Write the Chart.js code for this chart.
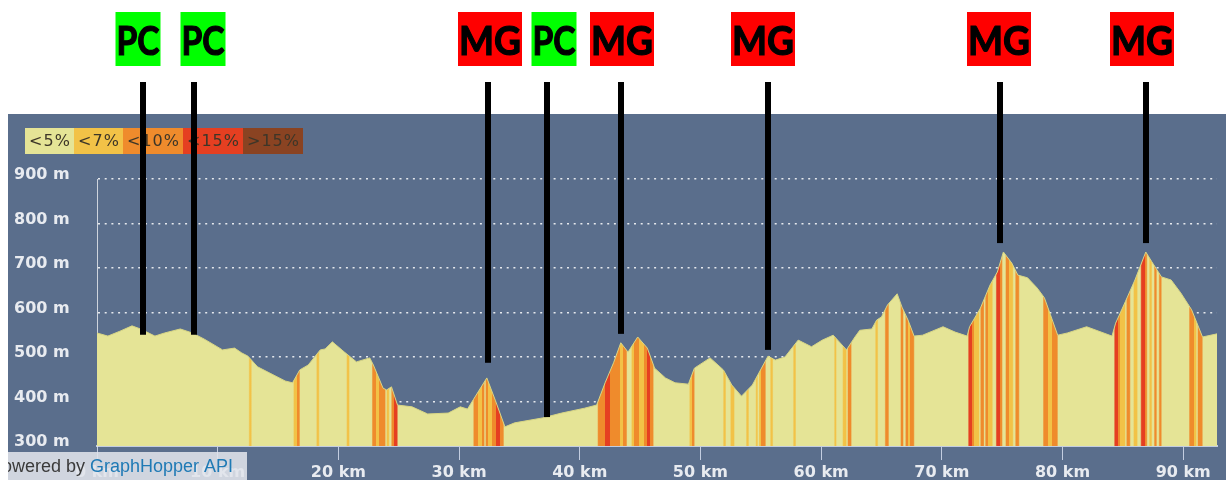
<!DOCTYPE html>
<html>
<head>
<meta charset="utf-8">
<script src="https://cdn.jsdelivr.net/npm/chart.js@4.4.1/dist/chart.umd.min.js"></script>
<style>
  html, body { margin: 0; padding: 0; background: #fff; }
  #wrap { width: 1226px; height: 480px; }
</style>
</head>
<body>
<div id="wrap"><canvas id="elev" width="1226" height="480"></canvas></div>
<script>
// ---- elevation profile (km / m) ----
const distKm = [0, 0.9, 1.9, 2.9, 3.6, 4.8, 5.6, 6.9, 7.9, 8.9, 10.4, 11.4, 12.0, 12.5, 13.3, 15.6, 16.2, 16.8, 17.5, 18.5,
  18.9, 19.5, 20.5, 21.5, 22.6, 22.9, 23.7, 24.0, 24.4, 24.9, 26.1, 27.4, 29.1, 30.1, 30.7, 31.2, 32.3, 33.0, 33.8, 34.6,
  36.9, 38.5, 40.4, 41.4, 42.1, 42.8, 43.4, 44.0, 44.8, 45.6, 46.2, 47.1, 47.9, 49.0, 49.5, 50.8, 51.9, 52.6, 53.4, 54.3,
  55.6, 56.2, 57.0, 58.1, 59.2, 60.1, 61.0, 62.1, 62.8, 63.2, 64.2, 64.6, 65.0, 65.5, 66.3, 66.7, 67.2, 67.7, 68.4, 70.1,
  71.1, 72.1, 72.3, 73.2, 74.0, 74.6, 75.1, 75.8, 76.3, 77.1, 77.9, 78.5, 79.0, 79.6, 80.4, 82.0, 84.1, 84.4, 85.2, 86.0,
  86.9, 87.4, 88.2, 89.0, 89.8, 90.7, 91.6, 92.8];
const elevM = [554, 547, 558, 570, 563, 547, 554, 563, 554, 540, 516, 520, 509, 502, 478, 446, 442, 471, 482, 516,
  518, 534, 511, 489, 498, 482, 430, 426, 433, 392, 388, 372, 374, 388, 383, 405, 453, 403, 343, 352,
  363, 374, 385, 392, 442, 487, 532, 511, 545, 520, 475, 453, 442, 439, 475, 498, 471, 437, 412, 437,
  502, 493, 500, 538, 523, 538, 549, 516, 545, 560, 563, 583, 590, 617, 642, 612, 583, 547, 549, 568,
  556, 547, 568, 610, 662, 691, 736, 711, 684, 678, 655, 633, 595, 549, 554, 568, 547, 576, 624, 673,
  736, 714, 680, 673, 644, 606, 545, 552];

// ---- slope bands: from km, to km, grade index into gradeColors ----
const stripeFrom = [12.6, 16.3, 16.6, 18.2, 20.7, 22.8, 23.1, 23.4, 24.0, 24.4, 24.6,
  31.2, 31.6, 31.9, 32.2, 32.4, 32.7, 33.1, 33.4,
  41.5, 42.1, 42.5, 43.3, 43.6, 44.3, 44.5, 44.9, 45.3, 45.6, 45.8,
  49.1, 49.3, 51.9, 52.5, 53.8, 54.6, 54.85, 55.0, 55.8, 57.7, 61.1, 61.8, 62.2,
  64.5, 65.3, 66.6, 67.0, 67.2, 67.4,
  72.2, 72.5, 72.7, 73.2, 73.6, 73.8, 74.5, 74.8, 75.3, 75.6, 76.1,
  78.4, 78.8, 79.1,
  84.3, 84.6, 84.8, 85.3, 85.9, 86.5, 86.8, 87.2, 87.6, 88.0, 90.5, 90.9, 91.2];
const stripeTo = [12.8, 16.6, 16.8, 18.4, 20.9, 23.1, 23.4, 23.9, 24.2, 24.6, 24.9,
  31.6, 31.9, 32.1, 32.4, 32.7, 33.1, 33.4, 33.7,
  42.1, 42.5, 43.3, 43.6, 43.9, 44.5, 44.9, 45.3, 45.6, 45.8, 46.1,
  49.3, 49.5, 52.1, 52.8, 54.0, 54.75, 55.0, 55.4, 56.0, 57.9, 61.25, 62.1, 62.5,
  64.7, 65.6, 66.8, 67.2, 67.4, 67.7,
  72.5, 72.7, 73.1, 73.5, 73.8, 74.2, 74.8, 75.0, 75.6, 75.9, 76.4,
  78.8, 79.1, 79.6,
  84.6, 84.8, 85.2, 85.6, 86.2, 86.8, 87.0, 87.4, 87.8, 88.2, 90.9, 91.1, 91.6];
const stripeGrade = [1, 1, 2, 1, 1, 2, 1, 2, 1, 2, 3,
  2, 1, 2, 2, 1, 2, 3, 2,
  2, 3, 2, 1, 2, 1, 2, 1, 2, 3, 2,
  1, 2, 1, 1, 1, 1, 1, 2, 1, 1, 1, 1, 2,
  1, 2, 2, 2, 1, 2,
  3, 2, 1, 2, 2, 1, 3, 2, 2, 1, 2,
  2, 1, 2,
  3, 2, 1, 2, 1, 3, 2, 1, 2, 2, 2, 1, 2];

const gradeLabels = ['<5%', '<7%', '<10%', '<15%', '>15%'];
const gradeColors = ['#e5e496', '#f2c247', '#ef8b2c', '#e53f21', '#8a4322'];

// ---- axes ----
const xTickKm = [0, 10, 20, 30, 40, 50, 60, 70, 80, 90];
const yTickM = [300, 400, 500, 600, 700, 800, 900];

// ---- marked points above the profile ----
const markKm = [3.8, 8.0, 32.4, 37.3, 43.4, 55.6, 74.8, 86.9];
const markEndM = [550, 550, 487, 365, 552, 516, 756, 756];
const markTag = ['PC', 'PC', 'MG', 'PC', 'MG', 'MG', 'MG', 'MG'];
const markTagKm = [3.36, 8.82, 32.56, 37.9, 43.5, 55.18, 74.73, 86.58];

const BG = '#5a6e8c';
const TXT = '#e8ebf0';

function profileFill(context) {
  const chart = context.chart, area = chart.chartArea;
  if (!area) return gradeColors[0];
  const xs = chart.scales.x, w = area.right - area.left, base = gradeColors[0];
  const f = km => Math.min(1, Math.max(0, (xs.getPixelForValue(km) - area.left) / w));
  const soft = 0.7 / w;
  const g = chart.ctx.createLinearGradient(area.left, 0, area.right, 0);
  g.addColorStop(0, base);
  stripeFrom.forEach((from, i) => {
    const a = f(from), b = f(stripeTo[i]), c = gradeColors[stripeGrade[i]];
    const joinL = i > 0 && Math.abs(stripeTo[i - 1] - from) < 1e-6;
    const joinR = i < stripeFrom.length - 1 && Math.abs(stripeFrom[i + 1] - stripeTo[i]) < 1e-6;
    if (!joinL) g.addColorStop(Math.max(0, a - soft), base);
    g.addColorStop(joinL ? a : a + soft, c);
    g.addColorStop(joinR ? b : b - soft, c);
    if (!joinR) g.addColorStop(Math.min(1, b + soft), base);
  });
  g.addColorStop(1, base);
  return g;
}

function drawGradeKey(c) {
  c.save();
  c.font = '16px "DejaVu Sans"';
  c.letterSpacing = '1px';
  c.textBaseline = 'middle';
  c.textAlign = 'center';
  let x = 25;
  gradeLabels.forEach((lab, i) => {
    const w = Math.round(c.measureText(lab).width) + 7;
    c.fillStyle = gradeColors[i];
    c.fillRect(x, 128, w, 26);
    c.fillStyle = '#3d3628';
    c.fillText(lab, x + w / 2 + 0.5, 142);
    x += w;
  });
  c.restore();
}

const backdrop = {
  id: 'backdrop',
  beforeDraw(chart) {
    const c = chart.ctx;
    c.save();
    c.fillStyle = BG;
    c.fillRect(8, 114, chart.width - 8, chart.height - 114);
    c.restore();
    drawGradeKey(c);
  }
};

const marks = {
  id: 'marks',
  afterDraw(chart) {
    const c = chart.ctx, xs = chart.scales.x, ys = chart.scales.y;
    c.save();
    markKm.forEach((km, i) => {
      const x = Math.round(xs.getPixelForValue(km));
      const yb = ys.getPixelForValue(markEndM[i]);
      c.fillStyle = '#000';
      c.fillRect(x - 3, 82, 6, yb - 82);
      const lx = Math.round(xs.getPixelForValue(markTagKm[i]));
      const bw = markTag[i] === 'MG' ? 64 : 45;
      c.fillStyle = markTag[i] === 'MG' ? '#ff0000' : '#00ff00';
      c.fillRect(lx - bw / 2, 12, bw, 54);
      c.font = 'bold 41px Lato';
      const tw = c.measureText(markTag[i]).width;
      const k = Math.min(1, (bw - 2) / tw);
      c.save();
      c.translate(lx, 55);
      c.scale(k, 1);
      c.fillStyle = '#000';
      c.textAlign = 'center';
      c.textBaseline = 'alphabetic';
      c.fillText(markTag[i], 0, 0);
      c.lineWidth = 1.2;
      c.strokeStyle = '#000';
      c.strokeText(markTag[i], 0, 0);
      c.restore();
    });

    // "powered by" strip, bottom left
    c.beginPath();
    c.rect(8, 452, 239, 28);
    c.clip();
    c.fillStyle = 'rgba(224,228,234,0.88)';
    c.fillRect(8, 452, 239, 28);
    c.font = '18px "Liberation Sans"';
    c.textBaseline = 'alphabetic';
    const pre = 'Powered by ';
    const px = 90 - c.measureText(pre).width;
    c.fillStyle = '#3a3a3a';
    c.fillText(pre, px, 472);
    c.fillStyle = '#1f7ab5';
    c.fillText('GraphHopper API', 90, 472);
    c.restore();
  }
};

new Chart(document.getElementById('elev'), {
  type: 'line',
  data: {
    datasets: [{
      data: distKm.map((d, i) => ({ x: d, y: elevM[i] })),
      fill: 'start',
      backgroundColor: profileFill,
      borderColor: '#d8d685',
      borderWidth: 1,
      pointRadius: 0,
      tension: 0
    }]
  },
  options: {
    responsive: false,
    animation: false,
    layout: { padding: { left: 14, top: 179, right: 9, bottom: 0 } },
    plugins: { legend: { display: false }, tooltip: { enabled: false } },
    scales: {
      x: {
        type: 'linear',
        min: 0,
        max: 92.8,
        afterFit: s => { s.height = 34; },
        afterBuildTicks: s => { s.ticks = xTickKm.map(v => ({ value: v })); },
        grid: { drawOnChartArea: false, drawTicks: true, tickLength: 14, tickColor: '#c3cde0', tickWidth: 1 },
        border: { display: true, color: '#c3cde0', width: 2 },
        ticks: {
          padding: 3,
          color: TXT,
          font: { family: '"DejaVu Sans"', size: 16, weight: 'bold' },
          callback: v => v + ' km'
        }
      },
      y: {
        min: 300,
        max: 900,
        afterFit: s => { s.width = 83; },
        afterBuildTicks: s => { s.ticks = yTickM.map(v => ({ value: v })); },
        grid: {
          drawTicks: false,
          lineWidth: 1.5,
          color: ctx => ctx.tick && ctx.tick.value === 300 ? 'rgba(0,0,0,0)' : 'rgba(255,255,255,0.85)'
        },
        border: { display: true, color: 'rgba(255,255,255,0.7)', width: 1, dash: [2, 4.7] },
        ticks: {
          crossAlign: 'far',
          labelOffset: -4,
          color: TXT,
          font: { family: '"DejaVu Sans"', size: 16, weight: 'bold' },
          callback: v => v + ' m'
        }
      }
    }
  },
  plugins: [backdrop, marks]
});
</script>
</body>
</html>
